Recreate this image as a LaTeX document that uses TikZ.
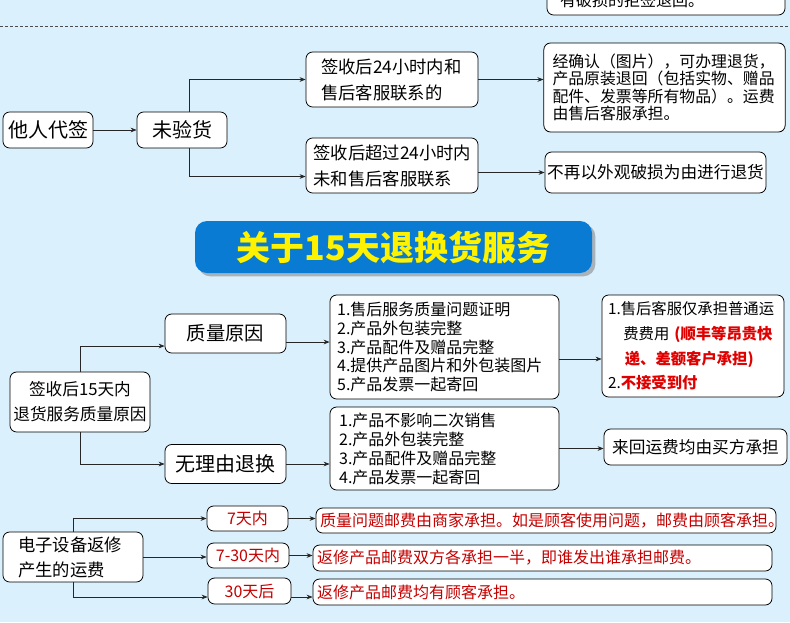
\documentclass[tikz,border=0pt]{standalone}
\usepackage{fontspec}
\usepackage{xcolor}
\usepackage{tikz}
\usetikzlibrary{arrows.meta, shadows}
\newfontfamily\cjk{Noto Sans CJK SC}
\definecolor{paleblue}{HTML}{DAF0FC}
\definecolor{bannerblue}{HTML}{0A7BD2}
\definecolor{bannershade}{HTML}{A9B1B9}
\definecolor{notered}{HTML}{C40000}
\definecolor{alertred}{HTML}{E00000}
\newcommand{\fs}[2]{\cjk\fontsize{#1}{#2}\selectfont}

\tikzset{
  box/.style={draw=black, fill=white, rounded corners=5pt, line width=0.6pt, inner sep=0pt},
  link/.style={draw=black!85, line width=0.5pt, -{Stealth[length=4.5pt,width=3.5pt]}},
  tag/.style={box, minimum height=18.75pt, text=notered, font=\fs{12}{13}},
  note/.style={box, minimum width=344.25pt, minimum height=19.5pt, text width=338pt, align=left, text=notered, font=\fs{12}{13}}
}

\begin{document}
\begin{tikzpicture}[x=0.75pt, y=-0.75pt]
  \useasboundingbox (0,0) rectangle (790,622);
  \clip (0,0) rectangle (790,622);
  \fill[paleblue] (0,0) rectangle (790,622);

  % box cut off at the top edge
  \node[box, minimum width=178.5pt, minimum height=22.5pt, text width=159pt, align=left, font=\fs{12}{13}] (refuse) at (666,0) {有破损的拒签退回。};
  \draw[black!70, line width=0.6pt, dash pattern=on 2.25pt off 1.5pt] (0,26) -- (790,26);

  % signed by someone else
  \node[box, minimum width=67.5pt, minimum height=27pt, font=\fs{15}{16}] (proxy) at (48,130) {他人代签};
  \node[box, minimum width=67.5pt, minimum height=27pt, font=\fs{15}{16}] (unchecked) at (182,130) {未验货};
  \node[box, minimum width=129pt, minimum height=41.25pt, text width=106.5pt, align=left, font=\fs{13}{19.5}] (intime) at (392,79.5) {签收后24小时内和\\售后客服联系的};
  \node[box, minimum width=129pt, minimum height=41.25pt, text width=118pt, align=left, font=\fs{13}{19.5}] (late) at (392,165.5) {签收后超过24小时内\\未和售后客服联系};
  \node[box, minimum width=181pt, minimum height=66.75pt, text width=168pt, align=left, font=\fs{11.9}{13}] (accept) at (664.5,87.5) {经确认（图片），可办理退货，\\产品原装退回（包括实物、赠品\\配件、发票等所有物品）。运费\\由售后客服承担。};
  \node[box, minimum width=165.75pt, minimum height=30.75pt, font=\fs{12.5}{13}] (reject) at (655.5,172.5) {不再以外观破损为由进行退货};

  \draw[link] (proxy) -- (unchecked);
  \draw[link] ([xshift=5.25pt]unchecked.north) |- (intime.west);
  \draw[link] ([xshift=5.25pt]unchecked.south) |- ([yshift=-8.25pt]late.west);
  \draw[link] (intime.east) -- (intime.east -| accept.west);
  \draw[link] (reject.west -| late.east) -- (reject.west);

  % banner
  \node[fill=bannerblue, rounded corners=9pt, minimum width=297.75pt, minimum height=39pt, inner sep=0pt,
    drop shadow={shadow xshift=2.5pt, shadow yshift=-2.5pt, fill=bannershade, opacity=1},
    text=yellow, font=\fs{25.5}{27}\bfseries] (banner) at (393.5,247) {关于15天退换货服务};

  % 15 day returns
  \node[box, minimum width=105pt, minimum height=45pt, align=center, font=\fs{12.5}{18.75}] (days15) at (80,402) {签收后15天内\\退货服务质量原因};
  \node[box, minimum width=90.75pt, minimum height=29.25pt, font=\fs{14.5}{16}] (quality) at (225.5,333.5) {质量原因};
  \node[box, minimum width=90.75pt, minimum height=29.25pt, font=\fs{15}{16}] (noreason) at (225.5,464) {无理由退换};
  \node[box, minimum width=171.75pt, minimum height=78pt, text width=161pt, align=left, font=\fs{12}{14}] (qlist) at (444.5,347) {1.售后服务质量问题证明\\2.产品外包装完整\\3.产品配件及赠品完整\\4.提供产品图片和外包装图片\\5.产品发票一起寄回};
  \node[box, minimum width=171.75pt, minimum height=62.25pt, text width=158pt, align=left, font=\fs{12}{14.25}] (nlist) at (444.5,448.5) {1.产品不影响二次销售\\2.产品外包装完整\\3.产品配件及赠品完整\\4.产品发票一起寄回};
  \node[box, minimum width=136.5pt, minimum height=76.5pt, text width=127.5pt, align=left, font=\fs{11.5}{18.5}] (qfee) at (693,346) {1.售后客服仅承担普通运\\\hspace*{1em}费费用{\color{alertred}\bfseries\ (顺丰等昂贵快}\\\hspace*{1.1em}{\color{alertred}\bfseries 递、差额客户承担)}\\2.{\color{alertred}\bfseries 不接受到付}};
  \node[box, minimum width=137.25pt, minimum height=27pt, font=\fs{12.5}{13}] (nfee) at (695.5,447) {来回运费均由买方承担};

  \draw[link] (days15.north) |- ([yshift=-9.4pt]quality.west);
  \draw[link] (days15.south) |- (noreason.west);
  \draw[link] ([yshift=-6.4pt]quality.east) -- ([yshift=-6.4pt]quality.east -| qlist.west);
  \draw[link] (noreason.east) -- (noreason.east -| nlist.west);
  \draw[link] ([yshift=-9pt]qlist.east) -- ([yshift=-9pt]qlist.east -| qfee.west);
  \draw[link] (nlist.east) -- (nlist.east -| nfee.west);

  % repair postage
  \node[box, minimum width=105pt, minimum height=37.5pt, text width=82.5pt, align=left, font=\fs{13}{18.75}] (repair) at (73,557) {电子设备返修\\产生的运费};
  \node[tag, minimum width=60.75pt] (in7) at (247.5,518.5) {7天内};
  \node[tag, minimum width=61.5pt] (in30) at (248,555.5) {7-30天内};
  \node[tag, minimum width=62.25pt, minimum height=19.5pt] (after30) at (249.5,591) {30天后};
  \node[note, minimum width=345pt, minimum height=18.75pt, text width=339pt] (feea) at (546,520.5) {质量问题邮费由商家承担。如是顾客使用问题，邮费由顾客承担。};
  \node[note] (feeb) at (542.5,558) {返修产品邮费双方各承担一半，即谁发出谁承担邮费。};
  \node[note] (feec) at (542.5,592) {返修产品邮费均有顾客承担。};

  \draw[link] (repair.north) |- (in7.west);
  \draw[link] (repair.east) -- (repair.east -| in30.west);
  \draw[link] (repair.south) |- ([yshift=-4.5pt]after30.west);
  \draw[link] (in7.east) -- (in7.east -| feea.west);
  \draw[link] (in30.east) -- (in30.east -| feeb.west);
  \draw[link] ([yshift=-4.5pt]after30.east) -- ([yshift=-4.5pt]after30.east -| feec.west);
\end{tikzpicture}
\end{document}
